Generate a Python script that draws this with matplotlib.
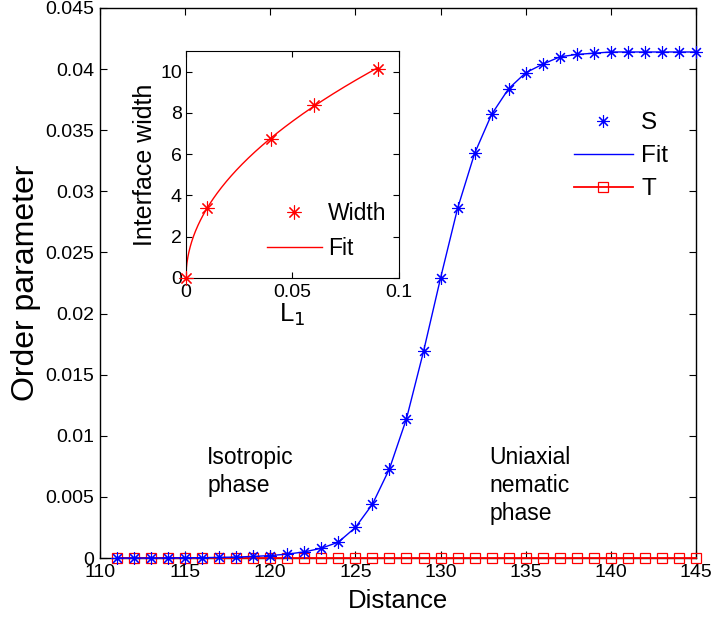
import numpy as np
import matplotlib
matplotlib.use("Agg")
import matplotlib.pyplot as plt

plt.rcParams['font.family'] = ['Liberation Sans', 'DejaVu Sans']

# Main data
distance = np.arange(111, 146)
S = [0.0, 0.0, 0.0, 0.00001, 0.00002, 0.00003, 0.00005, 0.00008, 0.00013,
     0.0002, 0.00032, 0.0005, 0.0008, 0.0013, 0.0025, 0.0044, 0.0073, 0.0114,
     0.0169, 0.0229, 0.0286, 0.0331, 0.0363, 0.0384, 0.0397, 0.0404, 0.0410,
     0.0412, 0.0413, 0.0414, 0.0414, 0.0414, 0.0414, 0.0414, 0.0414]
T = [0.0] * len(distance)

# Inset data
L1 = [0.0, 0.01, 0.04, 0.06, 0.09]
width = [0.0, 3.4, 6.75, 8.4, 10.15]

fig = plt.figure(figsize=(7.12, 6.23), dpi=100)
ax = fig.add_axes([0.1404, 0.1043, 0.8371, 0.8829])

blue = (0, 0, 1)
red = (1, 0, 0)
ast = (8, 2, 0)

ax.plot(distance, T, '-', color=red, linewidth=1.3, marker='s', markersize=7,
        markerfacecolor='none', markeredgecolor=red, markeredgewidth=0.9,
        label='T', clip_on=False, zorder=3)
ax.plot(distance, S, '-', color=blue, linewidth=1.0, label='Fit',
        clip_on=False, zorder=4)
ax.plot(distance, S, linestyle='none', marker=ast, markersize=9, color=blue,
        markeredgewidth=0.8, label='S', clip_on=False, zorder=5)

ax.set_xlim(110, 145)
ax.set_ylim(0, 0.045)
ax.set_xticks(np.arange(110, 146, 5))
ax.set_yticks(np.arange(0, 0.0451, 0.005))
ax.set_yticklabels(['0', '0.005', '0.01', '0.015', '0.02', '0.025', '0.03',
                    '0.035', '0.04', '0.045'])
ax.tick_params(direction='in', top=True, right=True, length=5, labelsize=14)
ax.tick_params(axis='x', pad=4)
ax.tick_params(axis='y', pad=4)
ax.set_xlabel('Distance', fontsize=18.5, labelpad=6)
ax.set_ylabel('Order parameter', fontsize=23, labelpad=3)
for s in ax.spines.values():
    s.set_linewidth(1.0)

ax.text(116.3, 0.0092, 'Isotropic\nphase', fontsize=16.5, va='top', ha='left',
        linespacing=1.3)
ax.text(132.85, 0.0092, 'Uniaxial\nnematic\nphase', fontsize=16.5, va='top',
        ha='left', linespacing=1.3)

handles, labels = ax.get_legend_handles_labels()
order = [2, 1, 0]
ax.legend([handles[i] for i in order], [labels[i] for i in order],
          loc='upper right', bbox_to_anchor=(0.99, 0.85), frameon=False,
          fontsize=17.5, handlelength=2.4, handletextpad=0.35, labelspacing=0.45)

# Inset
axi = fig.add_axes([0.2612, 0.5538, 0.2992, 0.3643])
axi.plot(L1, width, linestyle='none', marker=ast, markersize=10, color=red,
         markeredgewidth=0.8, label='Width', clip_on=False, zorder=5)
# power-law fit w = a * L^b computed from the data (non-zero points)
Larr = np.array(L1[1:])
Warr = np.array(width[1:])
b, lna = np.polyfit(np.log(Larr), np.log(Warr), 1)
Lfit = np.linspace(0, max(L1), 400)
axi.plot(Lfit, np.exp(lna) * Lfit ** b, '-', color=red, linewidth=1.0, label='Fit')
axi.set_xlim(0, 0.1)
axi.set_ylim(0, 11)
axi.set_xticks([0, 0.05, 0.1])
axi.set_xticklabels(['0', '0.05', '0.1'])
axi.set_yticks(np.arange(0, 11, 2))
axi.tick_params(direction='in', top=True, right=True, length=4, labelsize=14)
axi.tick_params(axis='x', pad=4)
axi.tick_params(axis='y', pad=3)
axi.set_xlabel('L$_1$', fontsize=18.5, labelpad=1)
axi.set_ylabel('Interface width', fontsize=18, labelpad=2)
axi.legend(loc='lower right', bbox_to_anchor=(1.04, -0.01), frameon=False,
           fontsize=16.5, handlelength=2.4, handletextpad=0.3, labelspacing=0.5)

fig.savefig('out.png', dpi=100)
